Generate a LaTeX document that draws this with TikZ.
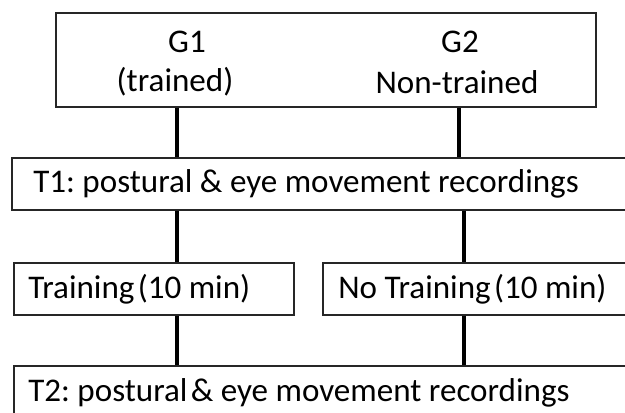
\documentclass[tikz,border=0pt]{standalone}
\usepackage{fontspec}
\setmainfont{Carlito}
\frenchspacing
\begin{document}
\begin{tikzpicture}[x=0.75pt,y=-0.75pt,
  box/.style={draw=black!85,line width=1.1pt,rectangle,inner sep=0pt},
  txt/.style={inner sep=0pt,font=\fontsize{24.8}{29}\selectfont},
  conn/.style={line width=2.3pt,black}]
\useasboundingbox (0,0) rectangle (625,413);
\clip (0,0) rectangle (625,413);
% boxes
\node[box,minimum width=405pt,minimum height=70.5pt] (top) at (326,60) {};
\node[box,minimum width=471pt,minimum height=39pt] (t1) at (326,184) {};
\node[box,minimum width=210pt,minimum height=39pt] (tr) at (154,289) {};
\node[box,minimum width=237.75pt,minimum height=39pt] (ntr) at (481.5,289) {};
\node[box,minimum width=469.5pt,minimum height=40.5pt] (t2) at (327,393) {};
% texts
\node[txt] (g1) at (187,42) {G1};
\node[txt] (g1b) at (175,82) {(trained)};
\node[txt] (g2) at (460,42) {G2};
\node[txt] (g2b) at (457,82) {Non-trained};
\node[txt,anchor=west] (t1t) at (33,184) {T1: postural \& eye movement recordings};
\node[txt,anchor=west] (trt) at (28,289) {Training\hspace{0.1em}(10 min)};
\node[txt,anchor=west] (ntrt) at (338,289) {No Training\hspace{0.1em}(10 min)};
\node[txt,anchor=west] (t2t) at (28,393) {T2: postural\hspace{0.1em}\& eye movement recordings};
% connector columns
\coordinate (cl) at (177,0);
\coordinate (cr) at (459,0);
\coordinate (cr2) at (464,0);
\draw[conn] (top.south -| cl) -- (t1.north -| cl);
\draw[conn] (top.south -| cr) -- (t1.north -| cr);
\draw[conn] (t1.south -| cl) -- (tr.north -| cl);
\draw[conn] (t1.south -| cr2) -- (ntr.north -| cr2);
\draw[conn] (tr.south -| cl) -- (t2.north -| cl);
\draw[conn] (ntr.south -| cr2) -- (t2.north -| cr2);
\end{tikzpicture}
\end{document}
